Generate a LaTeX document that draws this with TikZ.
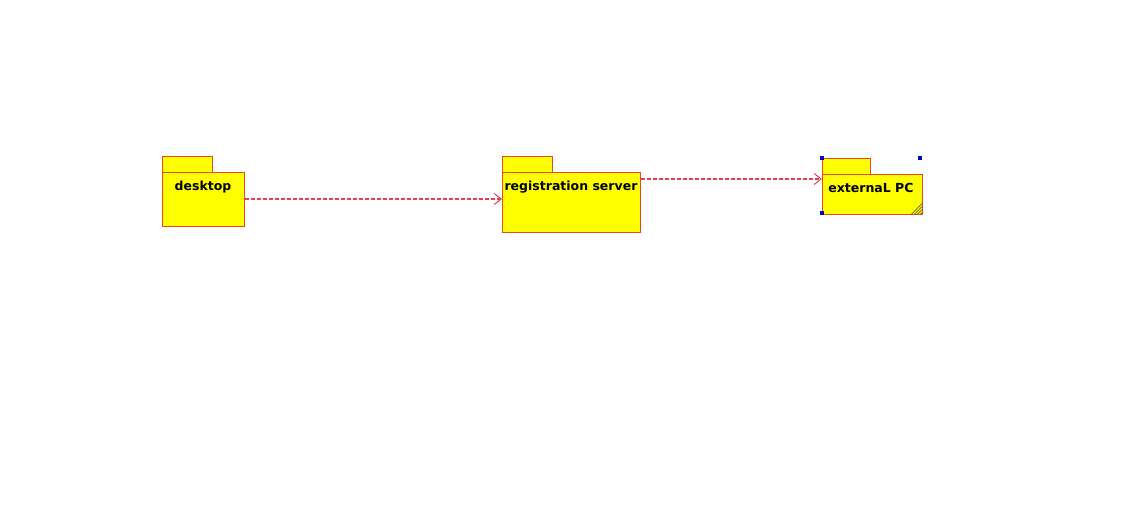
\documentclass[tikz,border=0pt]{standalone}
\usepackage{fontspec}
\setmainfont{DejaVu Sans}
\usetikzlibrary{arrows.meta,calc}
\definecolor{pkgborder}{RGB}{235,70,40}
\definecolor{pkgfill}{RGB}{255,255,0}
\definecolor{deplink}{RGB}{240,60,80}
\definecolor{handle}{RGB}{0,0,190}
\begin{document}
\begin{tikzpicture}[x=1pt,y=-1pt,
  pkgbody/.style={draw=pkgborder,fill=pkgfill,line width=1.3pt,inner sep=0pt,anchor=north west},
  pkgtab/.style={draw=pkgborder,fill=pkgfill,line width=1.3pt,inner sep=0pt,anchor=north west,minimum height=16pt},
  pkglabel/.style={font=\bfseries\fontsize{12.5}{15}\selectfont,text=black,inner sep=0pt},
  dep/.style={draw=deplink,dash pattern=on 3.5pt off 2.5pt,line width=1.2pt,-{Straight Barb[length=7pt,width=11pt,line width=1pt]}},
  handlebox/.style={fill=handle,minimum size=4pt,inner sep=0pt}]
\useasboundingbox (0,0) rectangle (1136,504);
% desktop
\node[pkgtab,minimum width=50pt] (desktab) at (162,156) {};
\node[pkgbody,minimum width=82pt,minimum height=54pt] (desk) at (162,172) {};
\node[pkglabel] (desklbl) at (203,187) {desktop};
% registration server
\node[pkgtab,minimum width=50pt] (regtab) at (502,156) {};
\node[pkgbody,minimum width=138pt,minimum height=60pt] (reg) at (502,172) {};
\node[pkglabel] (reglbl) at (571,187) {registration server};
% external PC
\node[pkgtab,minimum width=48pt] (exttab) at (822,158) {};
\node[pkgbody,minimum width=100pt,minimum height=40pt] (ext) at (822,174) {};
\node[pkglabel] (extlbl) at (871,188) {externaL PC};
% resize hatch
\foreach \d in {3,6,9,12}
  \draw[olive!70!black,line width=0.7pt] ($(ext.south east)+(-\d,-1)$) -- ($(ext.south east)+(-1,-\d)$);
% selection handles
\node[handlebox] (h1) at (822,158) {};
\node[handlebox] (h2) at (920,158) {};
\node[handlebox] (h3) at (822,213) {};
% dependencies
\coordinate (a1) at ($(desk.north east)+(0,27)$);
\coordinate (a2) at (a1 -| reg.west);
\draw[dep] (a1) -- (a2);
\coordinate (b1) at ($(reg.north east)+(0,7)$);
\coordinate (b2) at (b1 -| ext.west);
\draw[dep] (b1) -- (b2);
\end{tikzpicture}
\end{document}
